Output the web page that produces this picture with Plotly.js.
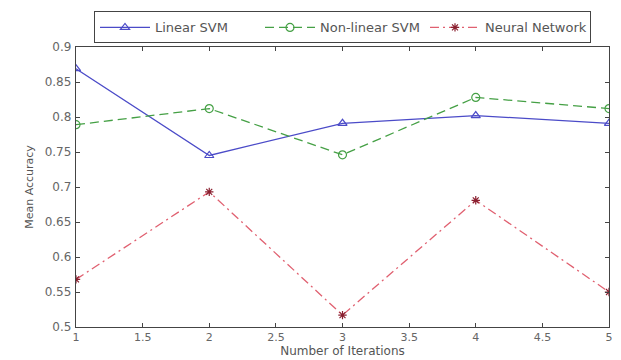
<!DOCTYPE html>
<html>
<head>
<meta charset="utf-8">
<script src="https://cdn.plot.ly/plotly-3.0.1.min.js"></script>
<style>html,body{margin:0;padding:0;background:#fff;}#chart{width:621px;height:360px;}</style>
</head>
<body>
<div id="chart"></div>
<script>
const iterations = [1, 2, 3, 4, 5];
const linearSVM = [0.869, 0.745, 0.791, 0.802, 0.791];
const nonlinearSVM = [0.789, 0.812, 0.746, 0.828, 0.812];
const neuralNetwork = [0.568, 0.693, 0.517, 0.681, 0.550];
const xTicks = [1, 1.5, 2, 2.5, 3, 3.5, 4, 4.5, 5];
const xTickText = ['1', '1.5', '2', '2.5', '3', '3.5', '4', '4.5', '5'];
const yTicks = [0.5, 0.55, 0.6, 0.65, 0.7, 0.75, 0.8, 0.85, 0.9];
const yTickText = ['0.5', '0.55', '0.6', '0.65', '0.7', '0.75', '0.8', '0.85', '0.9'];

const FONT = 'DejaVu Sans, Liberation Sans, Arial, sans-serif';

const traces = [
  {x: iterations, y: linearSVM, name: 'Linear SVM', type: 'scatter', mode: 'lines+markers',
   line: {color: '#4b4bc8', width: 1.3, dash: 'solid'},
   marker: {symbol: 'triangle-up-open', size: 8, color: '#4b4bc8', line: {width: 1.2}}},
  {x: iterations, y: nonlinearSVM, name: 'Non-linear SVM', type: 'scatter', mode: 'lines+markers',
   line: {color: '#45a045', width: 1.3, dash: '9px,5px'},
   marker: {symbol: 'circle-open', size: 8, color: '#45a045', line: {width: 1.2}}},
  {x: iterations, y: neuralNetwork, name: 'Neural Network', type: 'scatter', mode: 'lines+markers',
   line: {color: '#e06070', width: 1.3, dash: '9px,4px,2px,4px'},
   marker: {symbol: 'asterisk-open', size: 7, color: '#8a2030', line: {width: 1.2, color: '#8a2030'}}}
];

const axisCommon = {
  showline: true, linecolor: '#444', linewidth: 1.2, mirror: 'ticks',
  ticks: 'inside', ticklen: 4, tickcolor: '#444', tickwidth: 1,
  showgrid: false, zeroline: false,
  tickfont: {family: FONT, size: 12, color: '#666'}
};

const layout = {
  width: 621, height: 360,
  margin: {l: 76, r: 12, t: 44, b: 33},
  paper_bgcolor: '#fff', plot_bgcolor: '#fff',
  showlegend: true,
  legend: {orientation: 'h', x: 0.5, xanchor: 'center', y: 1.127, yanchor: 'top',
    xref: 'paper', yref: 'paper',
    bordercolor: '#444', borderwidth: 1, bgcolor: '#fff',
    itemwidth: 50, entrywidth: 100, entrywidthmode: 'pixels',
    font: {family: FONT, size: 13, color: '#555'}},
  xaxis: Object.assign({}, axisCommon, {
    range: [1, 5], tickvals: xTicks, ticktext: xTickText, ticklabelstandoff: 0,
    tickfont: {family: FONT, size: 11, color: '#666'},
    title: {text: 'Number of Iterations', standoff: 3,
      font: {family: FONT, size: 12, color: '#555'}}
  }),
  yaxis: Object.assign({}, axisCommon, {
    range: [0.5, 0.9], tickvals: yTicks, ticktext: yTickText, ticklabelstandoff: 1,
    title: {text: 'Mean Accuracy', standoff: 8,
      font: {family: FONT, size: 11, color: '#555'}}
  })
};

Plotly.newPlot('chart', traces, layout, {displayModeBar: false, staticPlot: true});
</script>
</body>
</html>
